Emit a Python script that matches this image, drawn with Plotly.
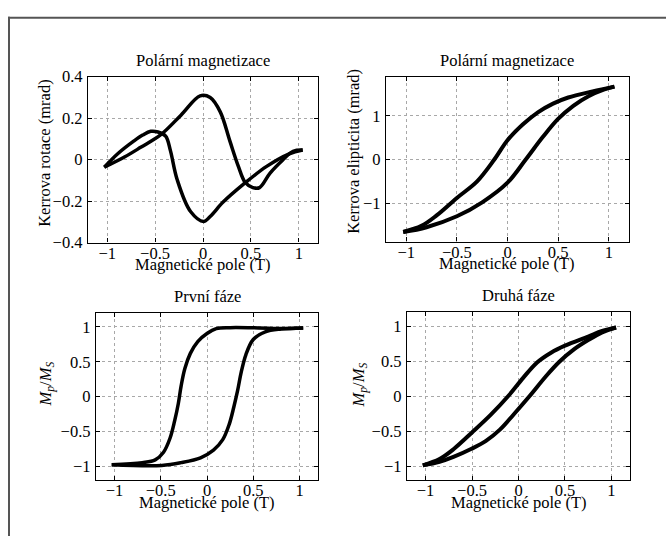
import plotly.graph_objects as go

W, H = 666, 546

# ---- data ----
# Panel 1: Kerr rotation (mrad), polar magnetisation
rot_desc_x = [1.04, 0.90, 0.66, 0.42, 0.21, 0.075, 0.006, -0.13, -0.27, -0.34, -0.39, -0.47, -0.545, -0.63, -0.72, -0.89, -1.03]
rot_desc_y = [0.046, 0.028, -0.034, -0.12, -0.205, -0.274, -0.298, -0.25, -0.096, 0.043, 0.113, 0.133, 0.136, 0.118, 0.09, 0.028, -0.037]
rot_asc_x = [-1.03, -0.82, -0.65, -0.44, -0.23, -0.03, 0.075, 0.18, 0.28, 0.37, 0.44, 0.52, 0.59, 0.70, 0.83, 0.94, 1.04]
rot_asc_y = [-0.037, 0.012, 0.059, 0.12, 0.214, 0.307, 0.299, 0.23, 0.09, -0.034, -0.11, -0.135, -0.135, -0.065, -0.003, 0.04, 0.046]

# Panel 2: Kerr ellipticity (mrad)
eli_desc_x = [1.056, 0.84, 0.60, 0.45, 0.30, 0.15, 0.0, -0.13, -0.30, -0.50, -0.70, -0.85, -1.03]
eli_desc_y = [1.67, 1.56, 1.42, 1.28, 1.08, 0.80, 0.44, 0.0, -0.50, -0.88, -1.28, -1.52, -1.66]
eli_asc_x = [-1.03, -0.80, -0.50, -0.25, 0.0, 0.18, 0.35, 0.50, 0.65, 0.80, 0.95, 1.056]
eli_asc_y = [-1.66, -1.55, -1.30, -0.98, -0.53, 0.0, 0.52, 0.93, 1.23, 1.45, 1.60, 1.67]

# Panel 3: first phase, Mp/Ms
ph1_desc_x = [1.04, 0.80, 0.56, 0.25, 0.10, 0.0, -0.10, -0.18, -0.24, -0.28, -0.31, -0.35, -0.40, -0.47, -0.56, -0.70, -1.03]
ph1_desc_y = [0.986, 0.977, 0.986, 0.99, 0.975, 0.905, 0.79, 0.62, 0.40, 0.15, -0.10, -0.35, -0.60, -0.80, -0.91, -0.95, -0.98]
ph1_asc_x = [-1.03, -0.49, -0.28, -0.07, 0.07, 0.17, 0.24, 0.29, 0.33, 0.37, 0.42, 0.50, 0.63, 0.80, 1.04]
ph1_asc_y = [-0.98, -0.99, -0.95, -0.88, -0.77, -0.62, -0.40, -0.15, 0.08, 0.35, 0.60, 0.82, 0.93, 0.97, 0.986]

# Panel 4: second phase, Mp/Ms
ph2_desc_x = [1.05, 0.90, 0.75, 0.50, 0.35, 0.20, 0.05, -0.11, -0.30, -0.50, -0.70, -0.85, -1.03]
ph2_desc_y = [0.98, 0.93, 0.85, 0.72, 0.62, 0.48, 0.26, 0.0, -0.27, -0.52, -0.76, -0.90, -0.99]
ph2_asc_x = [-1.03, -0.85, -0.70, -0.50, -0.35, -0.20, -0.05, 0.12, 0.30, 0.44, 0.60, 0.75, 0.90, 1.05]
ph2_asc_y = [-0.99, -0.94, -0.87, -0.75, -0.64, -0.48, -0.26, 0.0, 0.29, 0.49, 0.67, 0.80, 0.91, 0.98]

x_ticks = [-1, -0.5, 0, 0.5, 1]
rot_ticks = [-0.4, -0.2, 0, 0.2, 0.4]
eli_ticks = [-1, 0, 1]
m_ticks = [-1, -0.5, 0, 0.5, 1]

titles = ["Polární magnetizace", "Polární magnetizace", "První fáze", "Druhá fáze"]
x_title = "Magnetické pole (T)"
y_titles = ["Kerrova rotace (mrad)", "Kerrova elipticita (mrad)",
            "<i>M</i><sub><i>p</i></sub>/<i>M</i><sub><i>S</i></sub>",
            "<i>M</i><sub><i>p</i></sub>/<i>M</i><sub><i>S</i></sub>"]

# ---- layout geometry in pixels: (left, right, top, bottom) ----
boxes = [(88, 318, 70, 242), (386, 629, 70, 241), (96, 318, 315, 488), (407, 630, 314, 488)]
y_ranges = [[-0.4, 0.4], [-1.88, 1.9], [-1.2, 1.2], [-1.2, 1.2]]
y_tickvals = [rot_ticks, eli_ticks, m_ticks, m_ticks]
ytitle_pos = [(45, 149), (354, 148), (46, 389), (359, 390)]

FONT = "Liberation Serif"
FS = 16.5
fig = go.Figure()

series = [
    [(rot_desc_x, rot_desc_y), (rot_asc_x, rot_asc_y)],
    [(eli_desc_x, eli_desc_y), (eli_asc_x, eli_asc_y)],
    [(ph1_desc_x, ph1_desc_y), (ph1_asc_x, ph1_asc_y)],
    [(ph2_desc_x, ph2_desc_y), (ph2_asc_x, ph2_asc_y)],
]
widths = [3.5, 4, 3.5, 4]

annotations = []
layout_axes = {}
for i, (box, ser) in enumerate(zip(boxes, series)):
    n = i + 1
    sfx = "" if n == 1 else str(n)
    for xs, ys in ser:
        fig.add_trace(go.Scatter(x=xs, y=ys, mode="lines", xaxis="x" + sfx, yaxis="y" + sfx,
                                 line=dict(color="black", width=widths[i], shape="spline", smoothing=1.0),
                                 showlegend=False, hoverinfo="skip"))
    l, r, t, b = box
    common = dict(showline=True, linecolor="black", linewidth=1.3, mirror="allticks",
                  ticks="inside", ticklen=4, tickcolor="black", tickwidth=1,
                  showgrid=True, gridcolor="#a8a8a8", griddash="dot", gridwidth=1,
                  zeroline=False, tickfont=dict(family=FONT, size=FS, color="black"))
    layout_axes["xaxis" + sfx] = dict(domain=[l / W, r / W], range=[-1.2, 1.2], tickvals=x_ticks,
                                      anchor="y" + sfx, ticklabelstandoff=-5, **common)
    layout_axes["yaxis" + sfx] = dict(domain=[1 - b / H, 1 - t / H], range=y_ranges[i],
                                      tickvals=y_tickvals[i], anchor="x" + sfx,
                                      ticklabelstandoff=1, **common)
    cx = (l + r) / 2 / W
    annotations.append(dict(text=titles[i], x=cx, y=1 - (t - 17) / H, xref="paper", yref="paper",
                            xanchor="center", yanchor="middle", showarrow=False,
                            font=dict(family=FONT, size=FS, color="black")))
    annotations.append(dict(text=x_title, x=cx, y=1 - (b + 23) / H, xref="paper", yref="paper",
                            xanchor="center", yanchor="middle", showarrow=False,
                            font=dict(family=FONT, size=FS, color="black")))
    yx, yy = ytitle_pos[i]
    annotations.append(dict(text=y_titles[i], x=yx / W, y=1 - yy / H, xref="paper", yref="paper",
                            xanchor="center", yanchor="middle", showarrow=False, textangle=-90,
                            font=dict(family=FONT, size=FS, color="black")))

shapes = [
    dict(type="line", xref="paper", yref="paper", x0=8 / W, x1=1, y0=1 - 9 / H, y1=1 - 9 / H,
         line=dict(color="#555555", width=2)),
    dict(type="line", xref="paper", yref="paper", x0=9 / W, x1=9 / W, y0=0, y1=1 - 8 / H,
         line=dict(color="#555555", width=2)),
]

fig.update_layout(width=W, height=H, margin=dict(l=0, r=0, t=0, b=0),
                  paper_bgcolor="white", plot_bgcolor="white",
                  annotations=annotations, shapes=shapes, **layout_axes)

fig.write_html("out.html")
